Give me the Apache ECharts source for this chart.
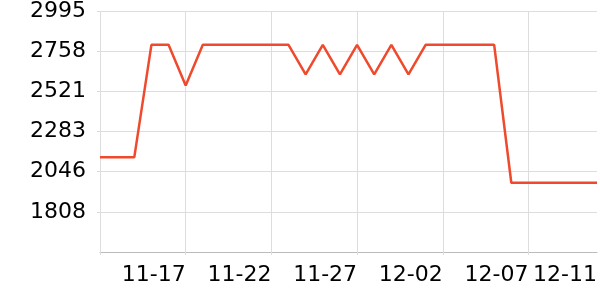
<!DOCTYPE html>
<html><head><meta charset="utf-8">
<script src="https://cdn.jsdelivr.net/npm/echarts@6/dist/echarts.min.js"></script>
<style>html,body{margin:0;padding:0;background:#fff}#c{width:600px;height:300px}</style>
</head><body><div id="c"></div>
<script>
const categories = ['11-12','11-13','11-14','11-15','11-16','11-17','11-18','11-19','11-20','11-21',
  '11-22','11-23','11-24','11-25','11-26','11-27','11-28','11-29','11-30','12-01',
  '12-02','12-03','12-04','12-05','12-06','12-07','12-08','12-09','12-10','12-11'];
const values = [2130,2130,2130,2795,2795,2555,2795,2795,2795,2795,
  2795,2795,2620,2795,2620,2795,2620,2795,2620,2795,
  2795,2795,2795,2795,1980,1980,1980,1980,1980,1980];
const yTickLabels = ['1571','1808','2046','2283','2521','2758','2995'];
const xLabelIdx = [5,10,15,20,25,29];
const xTickIdx = [0,5,10,15,20,25];
const yMin = 1570.6, yMax = 2995, yStep = 237.4;

const chart = echarts.init(document.getElementById('c'), null, {renderer:'canvas'});
chart.setOption({
  animation:false,
  grid:{left:100,right:1,top:10,bottom:48,containLabel:false},
  xAxis:{
    type:'category', data:categories, boundaryGap:false,
    axisLine:{lineStyle:{color:'#bbbbbb',width:1}},
    axisTick:{show:true,length:3,interval:(i)=>xTickIdx.includes(i),lineStyle:{color:'#dddddd'}},
    splitLine:{show:true,interval:(i)=>xTickIdx.includes(i),lineStyle:{color:'#dddddd',width:1}},
    axisLabel:{interval:(i)=>xLabelIdx.includes(i),align:'right',margin:12,
      fontFamily:'DejaVu Sans',fontSize:22,color:'#000'}
  },
  yAxis:{
    type:'value', min:yMin, max:yMax, interval:yStep,
    axisLine:{show:false},
    axisTick:{show:true,length:3,lineStyle:{color:'#dddddd'}},
    splitLine:{show:true,lineStyle:{color:'#dddddd',width:1}},
    axisLabel:{showMinLabel:false,margin:14,fontFamily:'DejaVu Sans',fontSize:22,color:'#000',
      formatter:(v)=>yTickLabels[Math.round((v-yMin)/yStep)]}
  },
  series:[{type:'line',data:values,showSymbol:false,symbol:'none',
    lineStyle:{color:'#ef4a2d',width:2.5}}]
});
</script></body></html>
